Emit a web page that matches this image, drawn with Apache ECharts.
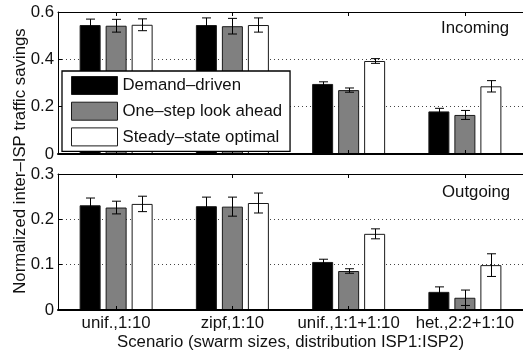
<!DOCTYPE html>
<html><head><meta charset="utf-8">
<script src="https://cdn.jsdelivr.net/npm/echarts@6/dist/echarts.min.js"></script>
<style>html,body{margin:0;padding:0;background:#fff}#c{width:523px;height:352px}</style>
</head><body><div id="c"></div>
<script>
var categories = ['unif.,1:10', 'zipf,1:10', 'unif.,1:1+1:10', 'het.,2:2+1:10'];
var seriesNames = ['Demand\u2013driven', 'One\u2013step look ahead', 'Steady\u2013state optimal'];
var inDemand = [0.545, 0.545, 0.296, 0.180];
var inLook = [0.542, 0.540, 0.270, 0.165];
var inSteady = [0.546, 0.545, 0.393, 0.286];
var inDemandErr = [0.025, 0.030, 0.009, 0.013];
var inLookErr = [0.027, 0.033, 0.009, 0.019];
var inSteadyErr = [0.025, 0.030, 0.010, 0.024];
var outDemand = [0.231, 0.229, 0.106, 0.040];
var outLook = [0.226, 0.228, 0.086, 0.027];
var outSteady = [0.234, 0.236, 0.168, 0.099];
var outDemandErr = [0.016, 0.020, 0.006, 0.011];
var outLookErr = [0.014, 0.021, 0.005, 0.017];
var outSteadyErr = [0.017, 0.022, 0.011, 0.025];
var inTicks = [0, 0.2, 0.4, 0.6];
var outTicks = [0, 0.1, 0.2, 0.3];

var FONT = '"Liberation Sans", Arial, Helvetica, sans-serif';
var FS = 16.8;
var fills = ['#000000', '#808080', '#ffffff'];
var BW = 21, GAP = 5;

var chart = echarts.init(document.getElementById('c'), null, {renderer: 'canvas'});

function errData(vals, errs, s) {
  return vals.map(function (v, i) { return [i, s, v - errs[i], v + errs[i]]; });
}
function errSeries(gi, data) {
  return {
    type: 'custom', xAxisIndex: gi * 2, yAxisIndex: gi, z: 5, silent: true,
    encode: {x: 0, y: [2, 3]},
    data: data,
    renderItem: function (params, api) {
      var off = (api.value(1) - 1) * (BW + GAP);
      var lo = api.coord([api.value(0), api.value(2)]);
      var hi = api.coord([api.value(0), api.value(3)]);
      var x = Math.round(lo[0] + off) + 0.5;
      var st = {stroke: '#000', lineWidth: 1, fill: null};
      var h = 4.5;
      return {type: 'group', children: [
        {type: 'line', shape: {x1: x, y1: lo[1], x2: x, y2: hi[1]}, style: st},
        {type: 'line', shape: {x1: x - h, y1: lo[1], x2: x + h, y2: lo[1]}, style: st},
        {type: 'line', shape: {x1: x - h, y1: hi[1], x2: x + h, y2: hi[1]}, style: st}
      ]};
    }
  };
}
function barSeries(gi, s, vals) {
  return {
    type: 'bar', name: seriesNames[s], xAxisIndex: gi * 2, yAxisIndex: gi,
    data: vals, barWidth: BW, barGap: (GAP / BW * 100) + '%',
    itemStyle: {color: fills[s], borderColor: '#1a1a1a', borderWidth: 1},
    emphasis: {disabled: true}, z: 2
  };
}
function xAxes(gi, showLabels) {
  var bottom = {
    type: 'category', gridIndex: gi, data: categories, position: 'bottom',
    axisLine: {show: true, onZero: false, lineStyle: {color: '#000', width: 2}},
    axisTick: {show: true, inside: true, alignWithLabel: true, length: 4, lineStyle: {color: '#000'}},
    axisLabel: {show: showLabels, interval: 0, color: '#111', fontFamily: FONT, fontSize: FS, margin: 5},
    splitLine: {show: false}, z: 10
  };
  if (showLabels) {
    bottom.name = 'Scenario (swarm sizes, distribution ISP1:ISP2)';
    bottom.nameLocation = 'middle';
    bottom.nameGap = 24;
    bottom.nameTextStyle = {color: '#111', fontFamily: FONT, fontSize: FS};
  }
  var top = {
    type: 'category', gridIndex: gi, data: categories, position: 'top',
    axisLine: {show: true, onZero: false, lineStyle: {color: '#000', width: 1}},
    axisTick: {show: true, inside: true, alignWithLabel: true, length: 4, lineStyle: {color: '#000'}},
    axisLabel: {show: false}, splitLine: {show: false}, z: 10
  };
  return [bottom, top];
}
function yAxis(gi, ticks) {
  var step = ticks[1] - ticks[0];
  return {
    type: 'value', gridIndex: gi, min: ticks[0], max: ticks[ticks.length - 1], interval: step,
    axisLine: {show: true, onZero: false, lineStyle: {color: '#000', width: 1}},
    axisTick: {show: true, inside: true, length: 4, lineStyle: {color: '#000'}},
    axisLabel: {color: '#111', fontFamily: FONT, fontSize: FS, margin: 4,
      formatter: function (v) { return v === 0 ? '0' : String(Math.round(v * 10) / 10); }},
    splitLine: {show: true, lineStyle: {color: '#444', width: 1, type: [1, 3]}}
  };
}

var option = {
  animation: false,
  backgroundColor: '#fff',
  textStyle: {fontFamily: FONT},
  grid: [
    {left: 58, top: 12, width: 468, height: 142},
    {left: 58, top: 174, width: 468, height: 136}
  ],
  xAxis: xAxes(0, false).concat(xAxes(1, true)),
  yAxis: [yAxis(0, inTicks), yAxis(1, outTicks)],
  legend: {
    left: 62, top: 71, orient: 'vertical',
    itemWidth: 46, itemHeight: 18, itemGap: 6.7,
    padding: [5, 8, 5, 9],
    backgroundColor: '#fff', borderColor: '#000', borderWidth: 1.3,
    icon: 'rect', selectedMode: false, z: 20,
    textStyle: {color: '#111', fontFamily: FONT, fontSize: FS, padding: [0, 0, 0, 0]},
    data: seriesNames.map(function (n, i) {
      return {name: n, itemStyle: {color: fills[i], borderColor: '#1a1a1a', borderWidth: 1}};
    })
  },
  graphic: [
    {type: 'text', left: 441, top: 20, z: 30,
      style: {text: 'Incoming', fill: '#111', font: FS + 'px ' + FONT}},
    {type: 'text', left: 442, top: 184, z: 30,
      style: {text: 'Outgoing', fill: '#111', font: FS + 'px ' + FONT}},
    {type: 'text', x: 20, y: 161, rotation: Math.PI / 2, z: 30,
      style: {text: 'Normalized inter\u2013ISP traffic savings', fill: '#111',
        font: FS + 'px ' + FONT, align: 'center', verticalAlign: 'middle'}}
  ],
  series: [
    barSeries(0, 0, inDemand), barSeries(0, 1, inLook), barSeries(0, 2, inSteady),
    errSeries(0, errData(inDemand, inDemandErr, 0).concat(errData(inLook, inLookErr, 1), errData(inSteady, inSteadyErr, 2))),
    barSeries(1, 0, outDemand), barSeries(1, 1, outLook), barSeries(1, 2, outSteady),
    errSeries(1, errData(outDemand, outDemandErr, 0).concat(errData(outLook, outLookErr, 1), errData(outSteady, outSteadyErr, 2)))
  ]
};
chart.setOption(option);
</script>
</body></html>
